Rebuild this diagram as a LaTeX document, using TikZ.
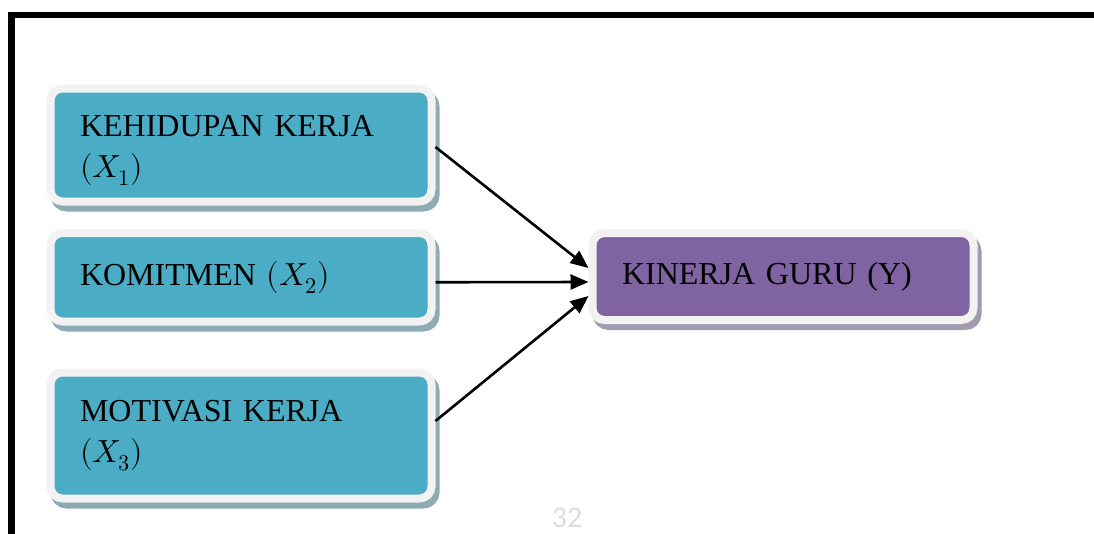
\documentclass[tikz,border=0pt]{standalone}
\usepackage{fontspec}
\usepackage{unicode-math}
\setmainfont{Liberation Serif}
\setmathfont{Latin Modern Math}
\newfontfamily\pagenumfont{Carlito}
\usetikzlibrary{arrows.meta}
\definecolor{tealfill}{HTML}{4BACC6}
\definecolor{purplefill}{HTML}{8064A2}
\definecolor{framecol}{HTML}{F2F2F2}
\definecolor{tealshadow}{HTML}{8EAAB4}
\definecolor{purpleshadow}{HTML}{A39AAF}
\definecolor{pagegray}{HTML}{DCDCDC}
\tikzset{
  varbox/.style={draw=framecol, line width=8pt, rounded corners=12pt,
    minimum width=381pt, text width=322pt, inner xsep=29.5pt, inner ysep=0pt,
    align=left, font=\fontsize{32}{41}\selectfont},
  tealbox/.style={varbox, fill=tealfill,
    preaction={draw=tealshadow, fill=tealshadow, line width=8pt,
      transform canvas={xshift=4pt, yshift=-6pt}}},
  purplebox/.style={varbox, fill=purplefill,
    preaction={draw=purpleshadow, fill=purpleshadow, line width=8pt,
      transform canvas={xshift=4pt, yshift=-6pt}}},
  link/.style={line width=2.6pt, -{Triangle[length=18pt, width=15pt]}},
}
\begin{document}
\begin{tikzpicture}[x=1pt, y=-1pt]
\useasboundingbox (0,0) rectangle (1094,533);
% page frame
\draw[line width=6.5pt, miter limit=10] (1100,15) -- (11.7,15) -- (11.7,540);
% boxes
\node[tealbox, minimum height=113pt] (x1) at (241,145)
  {\rule{0pt}{32pt}KEHIDUPAN KERJA\\$(X_1)$};
\node[tealbox, minimum height=88.5pt] (x2) at (241,277.25)
  {KOMITMEN $(X_2)$};
\node[tealbox, minimum height=126pt] (x3) at (241,435.5)
  {MOTIVASI KERJA\\$(X_3)$};
\node[purplebox, minimum height=87pt] (y) at (783,276.5)
  {KINERJA GURU (Y)};
% connectors
\draw[link] ([yshift=-2pt]x1.east) -- ([yshift=8.5pt]y.west);
\draw[link] ([yshift=-5pt]x2.east) -- ([yshift=-5.5pt]y.west);
\draw[link] ([yshift=14.5pt]x3.east) -- ([yshift=-19.5pt]y.west);
% page number
\node[text=pagegray, font=\pagenumfont\fontsize{30}{32}\selectfont, anchor=base, inner sep=0pt] (pg) at (567,527) {32};
\end{tikzpicture}
\end{document}
